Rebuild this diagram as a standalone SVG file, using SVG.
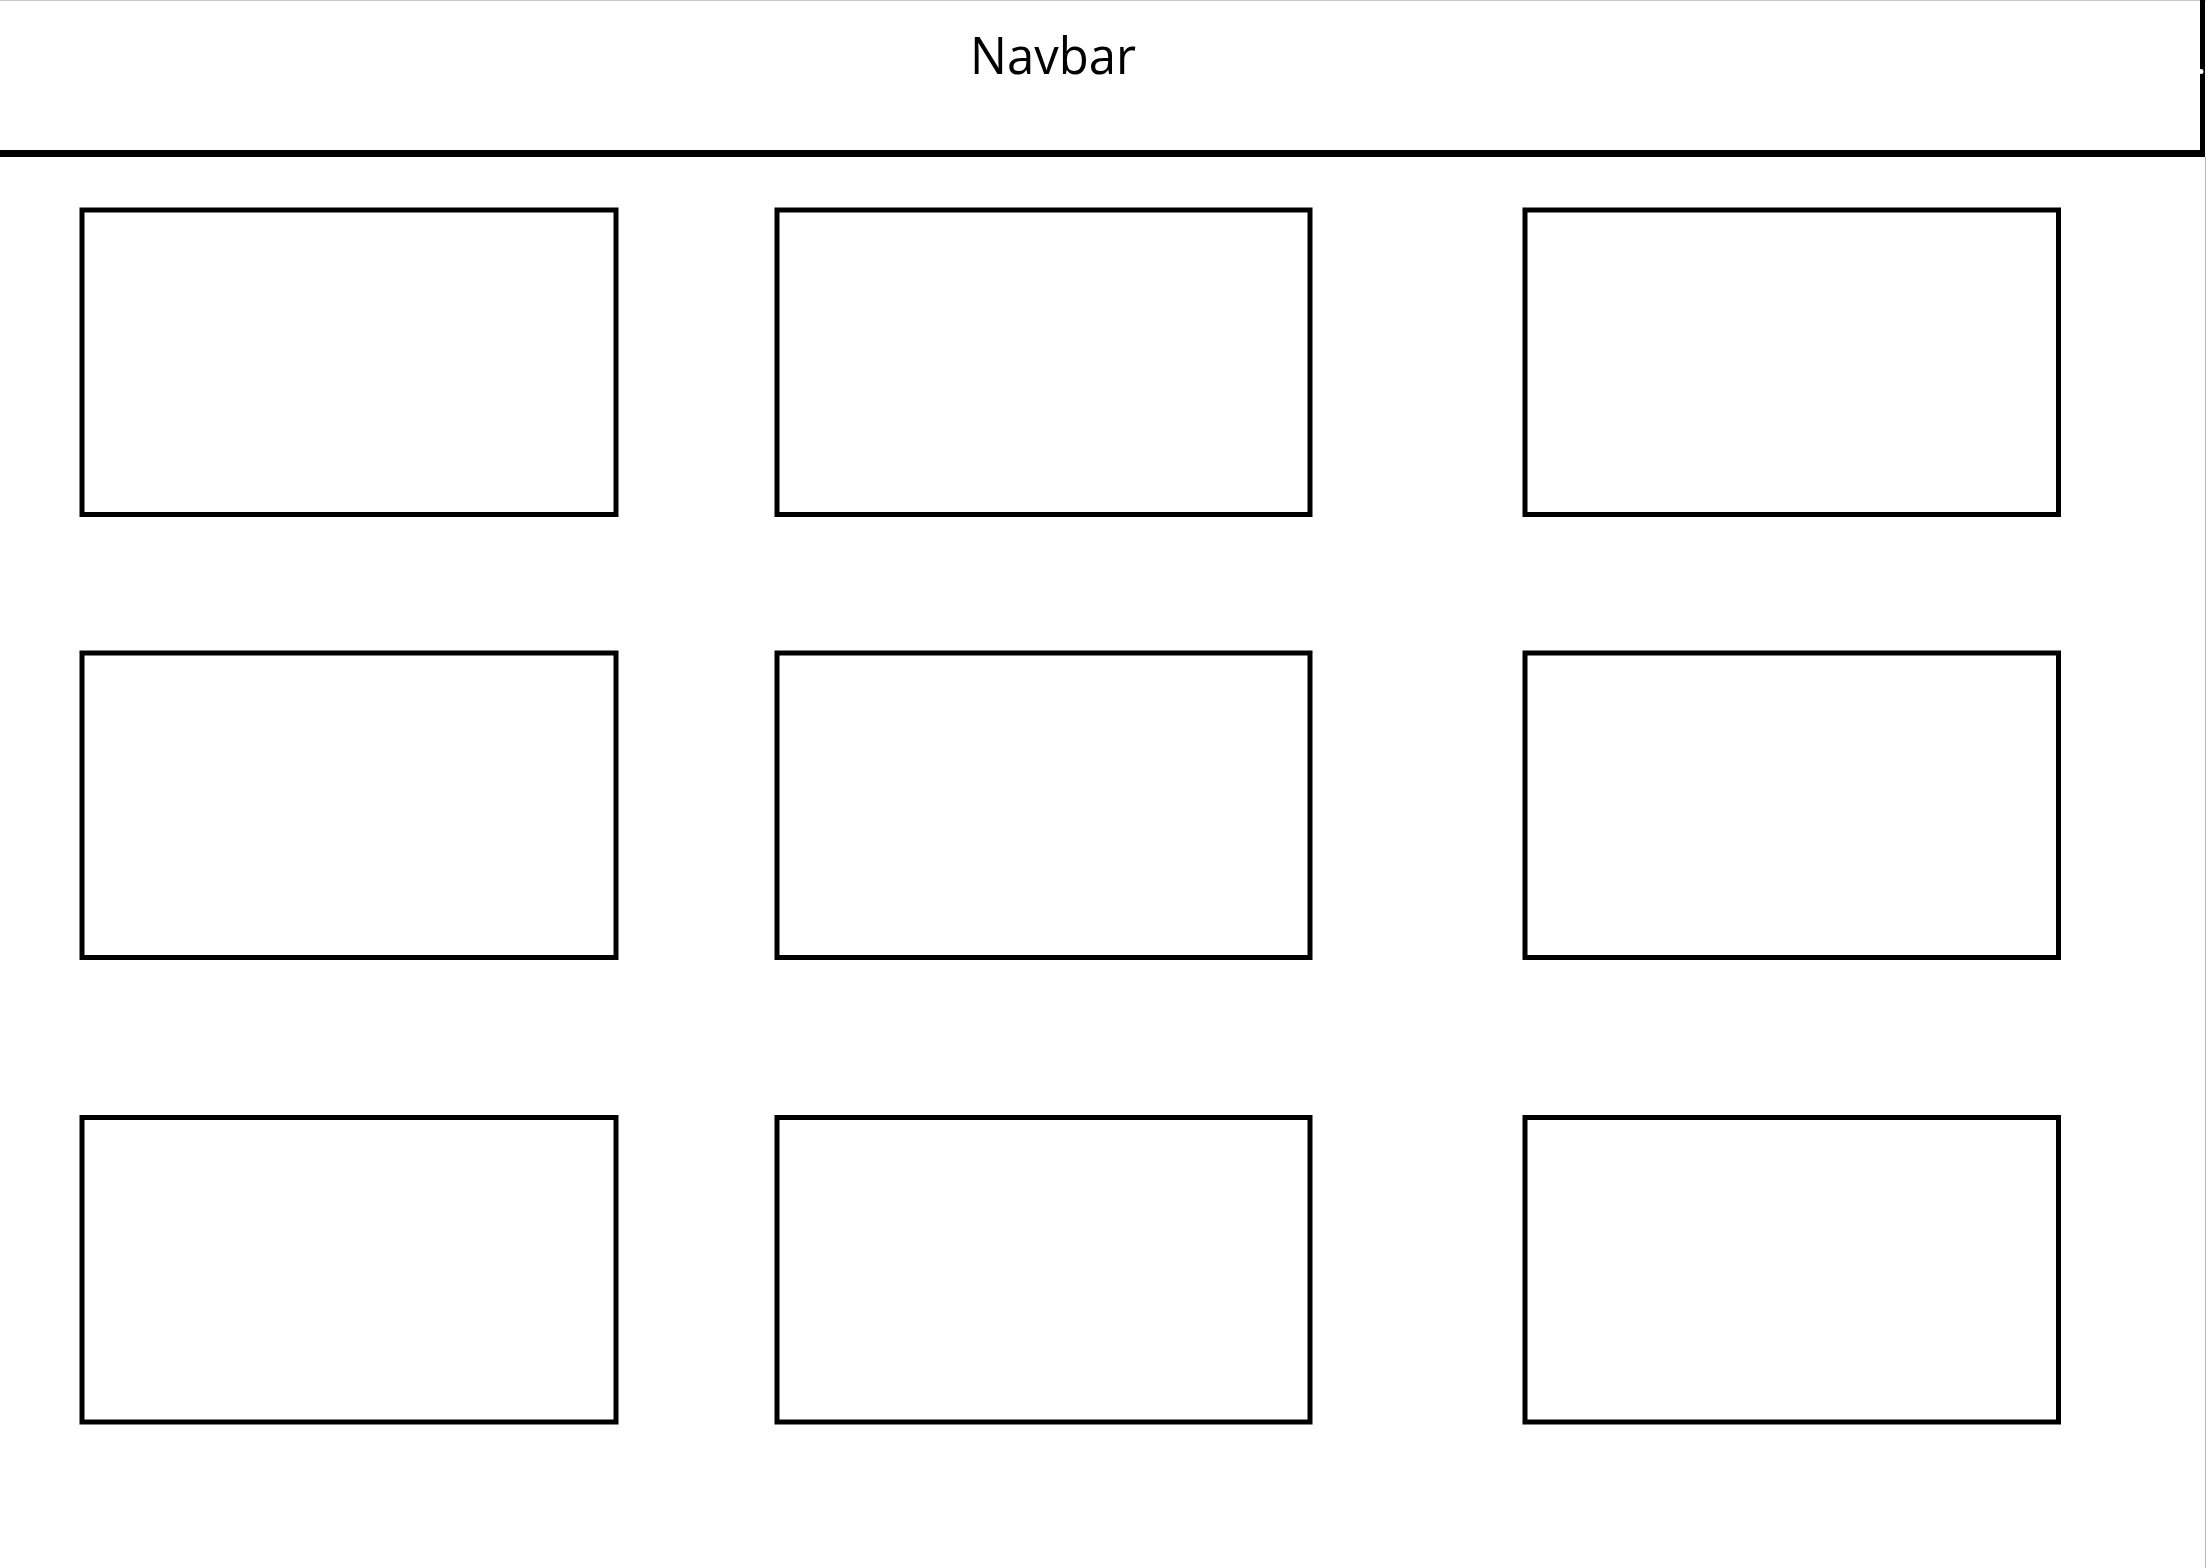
<svg xmlns="http://www.w3.org/2000/svg" width="2206" height="1568" viewBox="0 0 2206 1568">
<style>
.box{fill:#ffffff;stroke:#000000;stroke-width:5}
.lbl{font-family:"Open Sans","Noto Sans","Liberation Sans",sans-serif;font-size:52px;fill:#000000}
</style>
<rect x="0" y="0" width="2206" height="1568" fill="#ffffff"/>
<g id="navbar">
<line x1="0" y1="0.5" x2="2206" y2="0.5" stroke="#c8c8c8" stroke-width="1"/>
<line x1="2202.5" y1="0" x2="2202.5" y2="157" stroke="#000000" stroke-width="5"/>
<line x1="0" y1="153.5" x2="2205" y2="153.5" stroke="#000000" stroke-width="7"/>
<circle cx="2201" cy="71.5" r="2.5" fill="#ffffff"/>
<text class="lbl" x="1053" y="74" text-anchor="middle" textLength="166" lengthAdjust="spacingAndGlyphs">Navbar</text>
</g>
<line x1="2205.5" y1="157" x2="2205.5" y2="1568" stroke="#b4b4b4" stroke-width="1"/>
<g id="card-1-1"><rect class="box" x="82" y="210" width="534" height="304.5"/></g>
<g id="card-1-2"><rect class="box" x="777" y="210" width="533" height="304.5"/></g>
<g id="card-1-3"><rect class="box" x="1525" y="210" width="533.5" height="304.5"/></g>
<g id="card-2-1"><rect class="box" x="82" y="653" width="534" height="304.5"/></g>
<g id="card-2-2"><rect class="box" x="777" y="653" width="533" height="304.5"/></g>
<g id="card-2-3"><rect class="box" x="1525" y="653" width="533.5" height="304.5"/></g>
<g id="card-3-1"><rect class="box" x="82" y="1117.5" width="534" height="304.5"/></g>
<g id="card-3-2"><rect class="box" x="777" y="1117.5" width="533" height="304.5"/></g>
<g id="card-3-3"><rect class="box" x="1525" y="1117.5" width="533.5" height="304.5"/></g>
<g id="connectors"/>
</svg>
